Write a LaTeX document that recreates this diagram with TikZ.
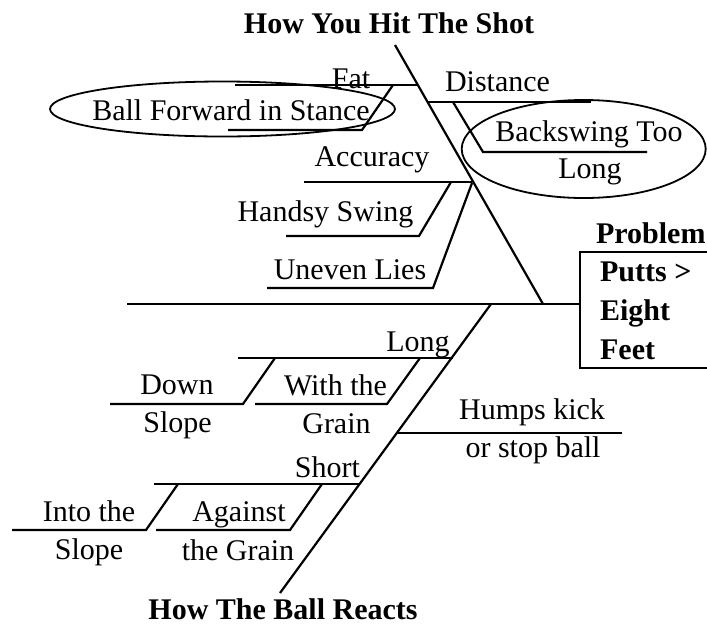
\documentclass[tikz,border=0pt]{standalone}
\usepackage{fontspec}
\setmainfont{Liberation Serif}

\begin{document}
\begin{tikzpicture}[x=1pt,y=-1pt,line width=2.2pt,
  lbl/.style={anchor=base,inner sep=0pt,font=\fontsize{30}{36}\selectfont},
  hdr/.style={lbl,font=\fontsize{30}{36}\selectfont\bfseries},
  ring/.style={line width=1.8pt}]

% === Frame ===
\useasboundingbox (0,0) rectangle (707,625);

% === Spines ===
\coordinate (tail) at (127,304);
\coordinate (head) at (580,304);
\coordinate (ttop) at (395,45);
\coordinate (tfoot) at (543,304);
\coordinate (btop) at (491,304);
\coordinate (bfoot) at (280,593);
\draw (tail) -- (head);
\draw (ttop) -- (tfoot);
\draw (btop) -- (bfoot);

% === Head box ===
\draw (580,252) rectangle (740,368);
\node[hdr,anchor=base west] (prob) at (595,243) {Problem};
\node[hdr,anchor=base west] (putts) at (599,281) {Putts >};
\node[hdr,anchor=base west] (eight) at (599,320) {Eight};
\node[hdr,anchor=base west] (feet) at (599,359) {Feet};

% === Titles ===
\node[hdr] (hitttl) at (389,33) {How You Hit The Shot};
\node[hdr] (ballttl) at (283,619) {How The Ball Reacts};

% === Upper bones ===
% Fat / ball position
\node[lbl] (fat) at (351,88) {Fat};
\draw (235,85) -- (417,85);
\draw (393,85) -- (362,130) -- (228,130);
\node[lbl] (ballfwd) at (231,120) {Ball Forward in Stance};
\draw[ring] (222.5,109) ellipse [x radius=172.5pt, y radius=27.5pt];

% Distance / backswing
\node[lbl] (dist) at (497.5,91) {Distance};
\draw (428,102) -- (591,102);
\draw (453,102) -- (483,152) -- (647,152);
\node[lbl] (backsw) at (589,141) {Backswing Too};
\node[lbl] (backlong) at (590,178) {Long};
\draw[ring] (583.7,149) ellipse [x radius=122pt, y radius=49pt];

% Accuracy / swing / lies
\node[lbl] (acc) at (372,166) {Accuracy};
\draw (304,182) -- (472,182);
\draw (451,182) -- (419,236) -- (286,236);
\node[lbl] (handsy) at (325.5,221) {Handsy Swing};
\draw (472,183) -- (433,288) -- (267,288);
\node[lbl] (uneven) at (350,279) {Uneven Lies};

% === Lower bones ===
% Long
\node[lbl] (longb) at (418,351.5) {Long};
\draw (238,358) -- (453,358);
\draw (420,358) -- (387,404) -- (255,404);
\draw (275,358) -- (243,404) -- (110,404);
\node[lbl] (down) at (177,394) {Down};
\node[lbl] (slopea) at (177.5,432) {Slope};
\node[lbl] (withthe) at (335.5,395) {With the};
\node[lbl] (graina) at (336.5,433) {Grain};

% Humps
\draw (398,433) -- (622,433);
\node[lbl] (humps) at (532,419) {Humps kick};
\node[lbl] (stopb) at (533,457) {or stop ball};

% Short
\node[lbl] (short) at (327.5,477) {Short};
\draw (154,484) -- (360,484);
\draw (322,484) -- (290,530) -- (156,530);
\draw (178,484) -- (146,530) -- (12,530);
\node[lbl] (intothe) at (89,521.5) {Into the};
\node[lbl] (slopeb) at (89,559) {Slope};
\node[lbl] (against) at (239,521.5) {Against};
\node[lbl] (grainb) at (238,560.5) {the Grain};

\end{tikzpicture}
\end{document}
